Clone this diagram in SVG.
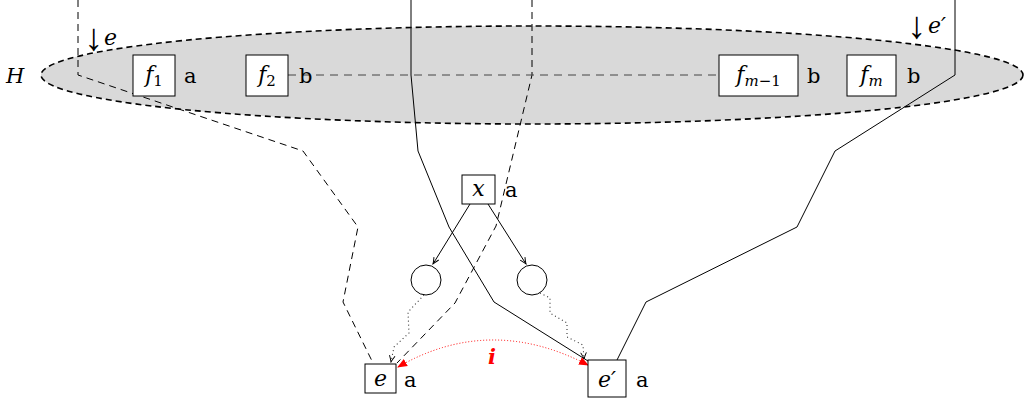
<svg xmlns="http://www.w3.org/2000/svg" width="1025" height="403" viewBox="0 0 1025 403">
<style>
.t{font-family:'DejaVu Serif',serif;font-size:21px;fill:#000}
.m{font-family:'DejaVu Serif',serif;font-style:italic;font-size:22px;fill:#000}
.s{font-size:15px}
.ar{font-family:'Liberation Serif',serif;font-size:38px;fill:#000}
.box{fill:#fff;stroke:#000;stroke-width:1}
.dash{fill:none;stroke:#000;stroke-width:1;stroke-dasharray:7,5}
.solid{fill:none;stroke:#000;stroke-width:1}
.dot{fill:none;stroke:#333;stroke-width:1.1;stroke-dasharray:1,3}
</style>
<defs>
<marker id="arr" viewBox="0 0 10 10" refX="9" refY="5" markerWidth="8" markerHeight="8" orient="auto" markerUnits="userSpaceOnUse">
<path d="M1,1.5 Q6,4 9,5 Q6,6 1,8.5" fill="none" stroke="#000" stroke-width="1.2"/>
</marker>
<marker id="red" viewBox="0 0 10 10" refX="9" refY="5" markerWidth="10" markerHeight="10" orient="auto-start-reverse" markerUnits="userSpaceOnUse">
<path d="M0,1 L10,5 L0,9 Z" fill="#f00"/>
</marker>
</defs>
<g id="H">
<ellipse cx="532" cy="75" rx="491" ry="49" fill="#d9d9d9" stroke="#000" stroke-width="1.6" stroke-dasharray="6,4"/>
<text class="m" x="6" y="83" style="font-size:21px">H</text>
</g>
<g id="connectors">
<path class="dash" d="M78,0 L78,75 L303,151 L358,227 L343,302 L373,363"/>
<path class="solid" d="M411,0 L411,75 L418,151 L449,227 L494,302 L588,361"/>
<path class="dash" d="M532,0 L532,75 L496,226 L455,303 L397,363"/>
<path class="solid" d="M955,0 L955,75 L835,151 L797,227 L646,302 L617,360"/>
<path d="M288,75 L719,75" fill="none" stroke="#444" stroke-width="1" stroke-dasharray="8,6"/>
<path class="solid" d="M470,204 L433,264" marker-end="url(#arr)"/>
<path class="solid" d="M488,204 L526,264" marker-end="url(#arr)"/>
<path class="dot" d="M424,295 L408,312 L409,333 L394,347 L391,362" marker-end="url(#arr)"/>
<path class="dot" d="M540,293 L550,298 L550,313 L567,323 L567,337 L583,345 L584,359" marker-end="url(#arr)"/>
<path d="M588,365 Q490,314 398,367" fill="none" stroke="#f00" stroke-width="1" stroke-dasharray="1,2" marker-start="url(#red)" marker-end="url(#red)"/>
<text x="492" y="364" text-anchor="middle" font-family="DejaVu Serif" font-style="italic" font-weight="bold" font-size="21" fill="#f00">i</text>
<text class="ar" x="84" y="50">↓</text>
<text class="m" x="104" y="45">e</text>
<text class="ar" x="907" y="38">↓</text>
<text class="m" x="928" y="33">e′</text>
</g>
<g id="f1">
<rect class="box" x="133" y="55" width="42" height="41"/>
<text class="m" x="154" y="82" text-anchor="middle">f<tspan class="s" dy="4" font-style="normal">1</tspan></text>
<text class="t" x="184" y="83">a</text>
</g>
<g id="f2">
<rect class="box" x="246" y="55" width="42" height="41"/>
<text class="m" x="267" y="82" text-anchor="middle">f<tspan class="s" dy="4" font-style="normal">2</tspan></text>
<text class="t" x="299" y="83">b</text>
</g>
<g id="fm1">
<rect class="box" x="719" y="55" width="79" height="41"/>
<text class="m" x="758.5" y="82" text-anchor="middle">f<tspan class="s" dy="4">m</tspan><tspan class="s" font-style="normal">−1</tspan></text>
<text class="t" x="807" y="83">b</text>
</g>
<g id="fm">
<rect class="box" x="847" y="55" width="49" height="41"/>
<text class="m" x="871.5" y="82" text-anchor="middle">f<tspan class="s" dy="4">m</tspan></text>
<text class="t" x="907" y="83">b</text>
</g>
<g id="x">
<rect class="box" x="462" y="175" width="33" height="29"/>
<text class="m" x="478.5" y="196" text-anchor="middle">x</text>
<text class="t" x="505" y="197">a</text>
</g>
<g id="c1"><circle cx="426" cy="280" r="15" fill="#fff" stroke="#000" stroke-width="1"/></g>
<g id="c2"><circle cx="532" cy="280" r="15" fill="#fff" stroke="#000" stroke-width="1"/></g>
<g id="e">
<rect class="box" x="365" y="364" width="31" height="29"/>
<text class="m" x="380.5" y="386" text-anchor="middle">e</text>
<text class="t" x="404" y="387">a</text>
</g>
<g id="ep">
<rect class="box" x="588" y="360" width="38" height="37"/>
<text class="m" x="607" y="387" text-anchor="middle">e′</text>
<text class="t" x="636" y="387">a</text>
</g>
</svg>
